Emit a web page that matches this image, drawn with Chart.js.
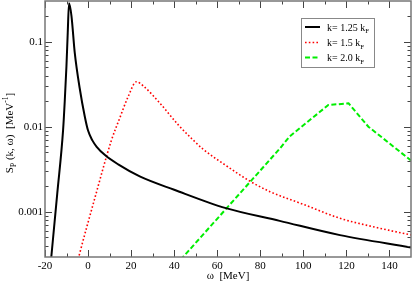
<!DOCTYPE html>
<html>
<head>
<meta charset="utf-8">
<script src="https://cdn.jsdelivr.net/npm/chart.js@4"></script>
<style>
  html, body { margin: 0; padding: 0; background: #fff; }
  canvas { display: block; }
</style>
</head>
<body>
<canvas id="spCanvas" width="412" height="281"></canvas>
<script>
// données
const omegaK125 = [-17.4, -14.3, -11.6, -10.8, -10.05, -9.44, -8.84, -7.7, -6.2, -3.9, -1.5, 0, 2, 4, 8, 14, 24, 40, 64, 89, 117, 150];
const spK125 = [0.00024, 0.00164, 0.0091, 0.0206, 0.0508, 0.127, 0.283, 0.2, 0.075, 0.0285, 0.0131, 0.009, 0.0069, 0.0058, 0.0046, 0.0036, 0.0026, 0.00181, 0.0011, 0.00078, 0.00053, 0.00038];

const omegaK15 = [-5, -4.3, 3, 10.9, 14.7, 18.6, 22.5, 25.6, 34.1, 41.9, 48.8, 53.5, 64, 75, 84.5, 100, 117, 133, 150];
const spK15 = [0.00025, 0.000295, 0.0014, 0.00697, 0.0126, 0.0225, 0.0338, 0.0302, 0.018, 0.0105, 0.00697, 0.00541, 0.0035, 0.0023, 0.00172, 0.00122, 0.000836, 0.00066, 0.000532];

const omegaK20 = [43, 89.2, 93.5, 111.6, 121, 130.2, 150];
const spK20 = [0.000272, 0.00557, 0.00763, 0.018, 0.0188, 0.01, 0.0040];

const seriesNames = ["1.25", "1.5", "2.0"];
const xTickLabels = [-20, 0, 20, 40, 60, 80, 100, 120, 140];
const xMinorTicks = [-10, 10, 30, 50, 70, 90, 110, 130];
const yTickLabels = [0.001, 0.01, 0.1];
const yMinorTicks = [0.0004, 0.0005, 0.0006, 0.0007, 0.0008, 0.0009,
                     0.002, 0.003, 0.004, 0.005, 0.006, 0.007, 0.008, 0.009,
                     0.02, 0.03, 0.04, 0.05, 0.06, 0.07, 0.08, 0.09, 0.2];

const SERIF = "'Liberation Serif', 'DejaVu Serif', serif";

function toPoints(xs, ys) {
    return xs.map((x, i) => ({ x: x, y: ys[i] }));
}

// dessin du cadre, des graduations internes, de la légende et du titre Y
const decorPlugin = {
    id: "decor",
    afterDraw(chart) {
        const ctx = chart.ctx;
        const a = chart.chartArea;
        const xs = chart.scales.x, ys = chart.scales.y;
        ctx.save();

        // graduations vers l'intérieur
        ctx.strokeStyle = "#444";
        ctx.lineWidth = 1;
        ctx.beginPath();
        const tickX = (v, len) => {
            const px = Math.round(xs.getPixelForValue(v)) + 0.5;
            ctx.moveTo(px, a.bottom); ctx.lineTo(px, a.bottom - len);
            ctx.moveTo(px, a.top); ctx.lineTo(px, a.top + len);
        };
        const tickY = (v, len) => {
            const py = Math.round(ys.getPixelForValue(v)) + 0.5;
            ctx.moveTo(a.left, py); ctx.lineTo(a.left + len, py);
            ctx.moveTo(a.right, py); ctx.lineTo(a.right - len, py);
        };
        xTickLabels.forEach(v => tickX(v, 7));
        xMinorTicks.forEach(v => tickX(v, 3.5));
        yTickLabels.forEach(v => tickY(v, 7));
        yMinorTicks.forEach(v => tickY(v, 3.5));
        ctx.stroke();

        // cadre
        ctx.strokeStyle = "#777";
        ctx.lineWidth = 1.5;
        ctx.strokeRect(a.left, a.top, a.right - a.left, a.bottom - a.top);

        // légende
        const lx = 301, ly = 18, lw = 73, lh = 49;
        ctx.fillStyle = "#fff";
        ctx.fillRect(lx, ly, lw, lh);
        ctx.strokeStyle = "#888";
        ctx.lineWidth = 1;
        ctx.strokeRect(lx + 0.5, ly + 0.5, lw, lh);
        const rowsY = [27, 42.5, 57.5];
        chart.data.datasets.forEach((ds, i) => {
            const y = rowsY[i];
            ctx.strokeStyle = ds.borderColor;
            ctx.lineWidth = ds.borderWidth;
            ctx.setLineDash(ds.borderDash || []);
            ctx.beginPath();
            ctx.moveTo(305, y); ctx.lineTo(320, y);
            ctx.stroke();
            ctx.setLineDash([]);
            ctx.fillStyle = "#000";
            ctx.textBaseline = "alphabetic";
            ctx.font = "10px " + SERIF;
            const main = "k= " + seriesNames[i] + " k";
            ctx.fillText(main, 327, y + 3.5);
            const w = ctx.measureText(main).width;
            ctx.font = "7px " + SERIF;
            ctx.fillText("F", 327 + w, y + 6);
        });

        // titre de l'axe Y : S_P (k, ω)  [MeV^-1]
        ctx.save();
        ctx.translate(13, 133);
        ctx.rotate(-Math.PI / 2);
        ctx.fillStyle = "#000";
        ctx.textBaseline = "alphabetic";
        const parts = [
            { t: "S", f: 11, dy: 0 },
            { t: "P", f: 7.5, dy: 3 },
            { t: " (k, \u03c9)  [MeV", f: 11, dy: 0 },
            { t: "-1", f: 7.5, dy: -5 },
            { t: "]", f: 11, dy: 0 }
        ];
        let total = 0;
        parts.forEach(p => { ctx.font = p.f + "px " + SERIF; p.w = ctx.measureText(p.t).width; total += p.w; });
        let cx = -total / 2;
        parts.forEach(p => {
            ctx.font = p.f + "px " + SERIF;
            ctx.fillText(p.t, cx, 0 + p.dy);
            cx += p.w;
        });
        ctx.restore();

        // titre de l'axe X
        ctx.fillStyle = "#000";
        ctx.font = "11px " + SERIF;
        ctx.textAlign = "center";
        ctx.textBaseline = "alphabetic";
        ctx.fillText("\u03c9  [MeV]", (a.left + a.right) / 2, 279);

        ctx.restore();
    }
};

const spCanvas = document.getElementById("spCanvas");

const spChart = new Chart(spCanvas, {
    type: "line",
    data: {
        datasets: [
            {
                data: toPoints(omegaK125, spK125),
                borderColor: "#000000",
                borderWidth: 2,
                pointRadius: 0,
                cubicInterpolationMode: "monotone"
            },
            {
                data: toPoints(omegaK15, spK15),
                borderColor: "#ff0000",
                borderWidth: 1.6,
                borderDash: [1.6, 2.2],
                pointRadius: 0,
                cubicInterpolationMode: "monotone"
            },
            {
                data: toPoints(omegaK20, spK20),
                borderColor: "#00ee00",
                borderWidth: 2,
                borderDash: [5, 2.5],
                pointRadius: 0,
                tension: 0
            }
        ]
    },
    options: {
        responsive: false,
        animation: false,
        devicePixelRatio: 1,
        layout: { padding: { top: 1, right: 1, left: 0, bottom: 0 } },
        plugins: {
            legend: { display: false },
            tooltip: { enabled: false }
        },
        scales: {
            x: {
                type: "linear",
                min: -20,
                max: 150,
                afterBuildTicks: s => { s.ticks = xTickLabels.map(v => ({ value: v })); },
                afterFit: s => { s.height = 24; s.paddingLeft = 0; s.paddingRight = 0; },
                grid: { display: false, drawTicks: false },
                border: { display: false },
                ticks: {
                    padding: 3,
                    maxRotation: 0,
                    autoSkip: false,
                    color: "#000",
                    font: { family: SERIF, size: 11 }
                },
                title: { display: false }
            },
            y: {
                type: "logarithmic",
                min: 0.000293,
                max: 0.301,
                afterBuildTicks: s => { s.ticks = yTickLabels.map(v => ({ value: v })); },
                afterFit: s => { s.width = 45; s.paddingTop = 0; s.paddingBottom = 0; },
                grid: { display: false, drawTicks: false },
                border: { display: false },
                ticks: {
                    padding: 2,
                    autoSkip: false,
                    color: "#000",
                    font: { family: SERIF, size: 11 },
                    callback: v => String(v)
                }
            }
        }
    },
    plugins: [decorPlugin]
});
</script>
</body>
</html>
